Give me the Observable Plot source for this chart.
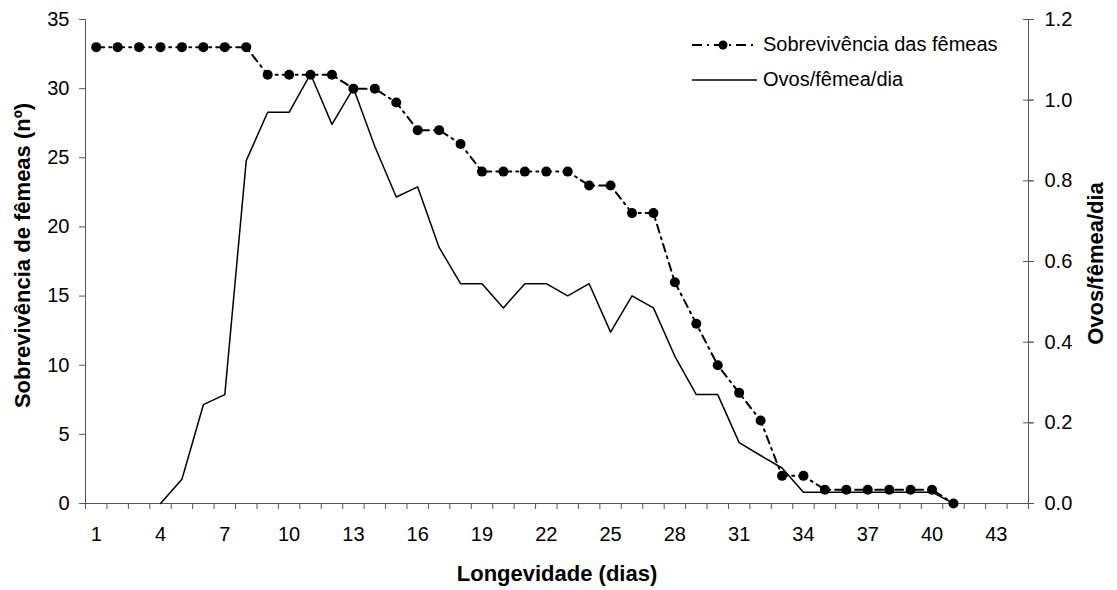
<!DOCTYPE html>
<html>
<head>
<meta charset="utf-8">
<script src="https://cdn.jsdelivr.net/npm/d3@7"></script>
<script src="https://cdn.jsdelivr.net/npm/@observablehq/plot@0.6"></script>
<style>
  html, body { margin: 0; padding: 0; background: #fff; }
  #wrap { position: relative; width: 1117px; height: 590px; font-family: "Liberation Sans", Arial, sans-serif; }
  #legend { position: absolute; left: 692px; top: 27px; font-size: 20px; color: #000; }
  #legend .row { display: flex; align-items: center; height: 35px; }
  #legend svg { margin-right: 6px; }
</style>
</head>
<body>
<div id="wrap">
  <div id="chart"></div>
  <div id="legend">
    <div class="row"><svg width="65" height="14"><line x1="0" y1="7" x2="65" y2="7" stroke="#000" stroke-width="2" stroke-dasharray="10,5,2,5"/><circle cx="31" cy="7" r="4.5" fill="#000"/></svg><span>Sobrevivência das fêmeas</span></div>
    <div class="row"><svg width="65" height="14"><line x1="0" y1="7" x2="65" y2="7" stroke="#000" stroke-width="1.5"/></svg><span>Ovos/fêmea/dia</span></div>
  </div>
</div>
<script>
// Categories (days)
const days = [1,2,3,4,5,6,7,8,9,10,11,12,13,14,15,16,17,18,19,20,21,22,23,24,25,26,27,28,29,30,31,32,33,34,35,36,37,38,39,40,41];
// Survival of females (left axis)
const survival = [33,33,33,33,33,33,33,33,31,31,31,31,30,30,29,27,27,26,24,24,24,24,24,23,23,21,21,16,13,10,8,6,2,2,1,1,1,1,1,1,0];
// Eggs/female/day (right axis), days 4..41
const eggDays = [4,5,6,7,8,9,10,11,12,13,14,15,16,17,18,19,20,21,22,23,24,25,26,27,28,29,30,31,32,33,34,35,36,37,38,39,40,41];
const eggs = [0,0.06,0.245,0.27,0.85,0.97,0.97,1.065,0.94,1.03,0.885,0.76,0.785,0.635,0.545,0.545,0.485,0.545,0.545,0.515,0.545,0.425,0.515,0.485,0.365,0.27,0.27,0.151,0.119,0.088,0.028,0.028,0.028,0.028,0.028,0.028,0.028,0];
// Axis tick labels
const xTickLabels = [1,4,7,10,13,16,19,22,25,28,31,34,37,40,43];
const leftTicks = [0,5,10,15,20,25,30,35];
const rightTicks = [0,0.2,0.4,0.6,0.8,1.0,1.2];
const nCategories = 44;
const leftMax = 35, rightMax = 1.2;
const toLeft = v => v * leftMax / rightMax;

const survData = days.map((d, i) => ({day: d, value: survival[i]}));
const eggData = eggDays.map((d, i) => ({day: d, value: toLeft(eggs[i])}));
const boundaries = d3.range(0, nCategories + 1).map(i => i + 0.5);
const axisColor = "#555";

const chart = Plot.plot({
  width: 1117,
  height: 590,
  marginLeft: 85,
  marginRight: 89,
  marginTop: 19,
  marginBottom: 87,
  style: {fontFamily: "Liberation Sans, Arial, sans-serif", fontSize: "20px", color: "#000", background: "#fff"},
  x: {type: "linear", domain: [0.5, nCategories + 0.5]},
  y: {domain: [0, leftMax]},
  marks: [
    // x axis boundary ticks
    Plot.axisX({ticks: boundaries, tickFormat: () => "", tickSize: 6, stroke: axisColor, label: null}),
    // x labels
    Plot.axisX({ticks: xTickLabels, tickSize: 0, tickPadding: 23, tickFormat: d => String(d), fill: "#000", fontSize: 20, label: null}),
    // left axis
    Plot.axisY({ticks: leftTicks, tickSize: 6, tickPadding: 10, stroke: axisColor, fill: "#000", fontSize: 20, label: null}),
    // right axis labels
    Plot.axisY({anchor: "right", ticks: rightTicks.map(toLeft), tickSize: 5, tickPadding: 11, stroke: axisColor, fill: "#000", fontSize: 20,
      tickFormat: d => (d * rightMax / leftMax).toFixed(1), label: null}),
    Plot.ruleY(rightTicks.map(toLeft), {x1: nCategories + 0.5, x2: nCategories + 0.5, insetLeft: -5, insetRight: -5, stroke: axisColor}),
    // axis lines
    Plot.ruleX([0.5], {stroke: axisColor}),
    Plot.ruleX([nCategories + 0.5], {stroke: axisColor}),
    Plot.ruleY([0], {stroke: axisColor}),
    // eggs line
    Plot.line(eggData, {x: "day", y: "value", stroke: "#000", strokeWidth: 1.5}),
    // survival line
    Plot.line(survData, {x: "day", y: "value", stroke: "#000", strokeWidth: 2, strokeDasharray: "8,5,2,5"}),
    Plot.dot(survData, {x: "day", y: "value", r: 5, fill: "#000", stroke: "none"}),
    // axis titles
    Plot.text(["Sobrevivência de fêmeas (nº)"], {frameAnchor: "left", textAnchor: "middle", lineAnchor: "middle", dx: -63, dy: -6, rotate: -90, fontWeight: "bold", fontSize: 22, fill: "#000"}),
    Plot.text(["Ovos/fêmea/dia"], {frameAnchor: "right", textAnchor: "middle", lineAnchor: "middle", dx: 67, dy: 2, rotate: -90, fontWeight: "bold", fontSize: 22, fill: "#000"}),
    Plot.text(["Longevidade (dias)"], {frameAnchor: "bottom", lineAnchor: "middle", dy: 70, fontWeight: "bold", fontSize: 22, fill: "#000"})
  ]
});
document.getElementById("chart").appendChild(chart);
</script>
</body>
</html>
